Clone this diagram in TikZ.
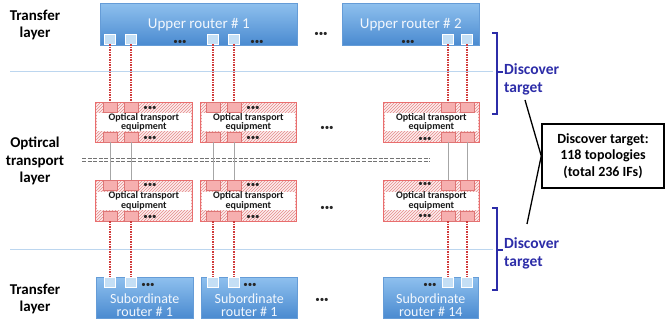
\documentclass[tikz,border=0pt]{standalone}
\usepackage{fontspec}
\setmainfont{Carlito}
\usetikzlibrary{patterns}
\definecolor{rtop}{HTML}{8EC0EE}
\definecolor{rbot}{HTML}{4A8AD0}
\definecolor{portblue}{HTML}{C4DFF5}
\definecolor{hatchc}{HTML}{E48A8A}
\definecolor{pinkbg}{HTML}{FDEEEE}
\definecolor{pinkport}{HTML}{F6AFAF}
\definecolor{redline}{HTML}{D03A3A}
\definecolor{navy}{HTML}{2C2CA8}
\definecolor{layerline}{HTML}{BCD6EF}
\definecolor{rtext}{HTML}{F2F7FD}
\tikzset{
  router/.style={draw=rbot!85!white, line width=0.6pt, top color=rtop, bottom color=rbot,
    rectangle, anchor=north west, inner sep=0pt, text=rtext,
    font=\fontsize{15}{15}\selectfont},
  rport/.style={draw=white, line width=0.5pt, fill=portblue, minimum width=11pt,
    minimum height=10pt, inner sep=0pt},
  optbox/.style={draw=hatchc!80!red, line width=0.8pt, preaction={fill=pinkbg},
    pattern=north east lines, pattern color=hatchc, rectangle, anchor=north west,
    inner sep=0pt},
  opttext/.style={fill=white, inner sep=0pt, minimum height=18pt, align=center,
    font=\bfseries\fontsize{10}{9.5}\selectfont, text=black!90},
  oport/.style={draw=redline!70, line width=0.5pt, fill=pinkport, minimum width=14pt,
    minimum height=10pt, inner sep=0pt},
  dotsn/.style={inner sep=0pt, font=\fontsize{9}{9}\selectfont, text=black!85},
  reddot/.style={draw=redline, line width=1.4pt, dash pattern=on 1.4pt off 1.1pt},
  grayv/.style={draw=gray!70, line width=0.8pt},
  ddash/.style={draw=black!55, line width=1pt, dash pattern=on 4pt off 1.6pt},
  layerl/.style={draw=layerline, line width=1pt},
  bracel/.style={draw=navy, line width=1.3pt},
  layerlabel/.style={align=center, font=\bfseries\fontsize{15}{17.5}\selectfont, inner sep=0pt},
  disc/.style={align=left, anchor=west, text=navy, font=\bfseries\fontsize{15.5}{18}\selectfont, inner sep=0pt},
  subtext/.style={align=center, text=rtext, font=\fontsize{14}{13}\selectfont, inner sep=0pt},
  sumbox/.style={draw=black, line width=1.5pt, fill=white, align=center, inner sep=0pt,
    minimum width=122pt, minimum height=64pt, font=\bfseries\fontsize{14}{16.5}\selectfont},
  pointer/.style={draw=black, line width=1.3pt}
}
\begin{document}
\begin{tikzpicture}[x=1pt,y=-1pt]
\useasboundingbox (0,0) rectangle (670,320);
% layer lines
\coordinate (l1L) at (10,72); \coordinate (l1R) at (493,72);
\coordinate (l2L) at (10,250); \coordinate (l2R) at (493,250);
\draw[layerl] (l1L) -- (l1R);
\draw[layerl] (l2L) -- (l2R);
% left labels
\node[layerlabel] (lab1) at (35,25) {Transfer\\layer};
\node[layerlabel] (lab2) at (35,161) {Optircal\\transport\\layer};
\node[layerlabel] (lab3) at (35,299) {Transfer\\layer};
% upper routers
\node[router, minimum width=197pt, minimum height=42pt] (ur1) at (100,3) {Upper router \# 1};
\node[router, minimum width=137pt, minimum height=42pt] (ur2) at (342,3) {Upper router \# 2};
\node[rport] (uA) at (110,39) {};
\node[rport] (uB) at (131,39) {};
\node[rport] (uC) at (213,39) {};
\node[rport] (uD) at (234,39) {};
\node[rport] (uE) at (448,39) {};
\node[rport] (uF) at (467,39) {};
\node[dotsn] (ud1) at (180,42) {•••};
\node[dotsn] (ud2) at (257,42) {•••};
\node[dotsn] (ud3) at (408,42) {•••};
\node[dotsn] (ud4) at (321,34) {•••};
% optical row 1
\node[optbox, minimum width=97pt, minimum height=40pt] (o1) at (95,102) {};
\node[optbox, minimum width=96pt, minimum height=40pt] (o2) at (200,102) {};
\node[optbox, minimum width=96pt, minimum height=40pt] (o3) at (383,102) {};
\node[opttext, minimum width=94pt] (o1t) at (o1.center) {Optical transport\\equipment};
\node[opttext, minimum width=93pt] (o2t) at (o2.center) {Optical transport\\equipment};
\node[opttext, minimum width=93pt] (o3t) at (o3.center) {Optical transport\\equipment};
\foreach \c/\x in {A/110,B/131,C/213,D/234,E/448,F/467}{
  \node[oport] (p\c1t) at (\x,107) {};
  \node[oport] (p\c1b) at (\x,137) {};
}
\node[dotsn] (od1) at (150,108) {•••};
\node[dotsn] (od2) at (150,138) {•••};
\node[dotsn] (od3) at (253,108) {•••};
\node[dotsn] (od4) at (253,138) {•••};
\node[dotsn] (od5) at (425,139) {•••};
\node[dotsn] (od6) at (327,128) {•••};
% optical row 2
\node[optbox, minimum width=97pt, minimum height=41pt] (q1) at (95,180) {};
\node[optbox, minimum width=96pt, minimum height=41pt] (q2) at (200,180) {};
\node[optbox, minimum width=96pt, minimum height=41pt] (q3) at (383,180) {};
\node[opttext, minimum width=94pt] (q1t) at (q1.center) {Optical transport\\equipment};
\node[opttext, minimum width=93pt] (q2t) at (q2.center) {Optical transport\\equipment};
\node[opttext, minimum width=93pt] (q3t) at (q3.center) {Optical transport\\equipment};
\foreach \c/\x in {A/110,B/131,C/213,D/234,E/448,F/467}{
  \node[oport] (p\c2t) at (\x,185) {};
  \node[oport] (p\c2b) at (\x,216) {};
}
\node[dotsn] (qd1) at (150,185) {•••};
\node[dotsn] (qd2) at (150,217) {•••};
\node[dotsn] (qd3) at (253,185) {•••};
\node[dotsn] (qd4) at (253,217) {•••};
\node[dotsn] (qd5) at (425,184) {•••};
\node[dotsn] (qd6) at (425,216) {•••};
\node[dotsn] (qd7) at (327,208) {•••};
% double dashed line
\coordinate (dL1) at (82,158.5); \coordinate (dR1) at (430,158.5);
\coordinate (dL2) at (82,162); \coordinate (dR2) at (430,162);
\draw[ddash] (dL1) -- (dR1);
\draw[ddash] (dL2) -- (dR2);
% subordinate routers
\node[router, minimum width=97pt, minimum height=41pt] (s1) at (96,277) {};
\node[router, minimum width=96pt, minimum height=41pt] (s2) at (201,277) {};
\node[router, minimum width=95pt, minimum height=41pt] (s3) at (383,277) {};
\node[subtext] (s1t) at ([yshift=-7pt]s1.center) {Subordinate\\router \# 1};
\node[subtext] (s2t) at ([yshift=-7pt]s2.center) {Subordinate\\router \# 1};
\node[subtext] (s3t) at ([yshift=-7pt]s3.center) {Subordinate\\router \# 14};
\foreach \c/\x in {A/110,B/131,C/213,D/234,E/448,F/467}{
  \node[rport] (s\c) at (\x,282.5) {};
}
\node[dotsn] (sd1) at (148,285) {•••};
\node[dotsn] (sd2) at (250,285) {•••};
\node[dotsn] (sd3) at (430,285) {•••};
\node[dotsn] (sd4) at (322,300) {•••};
% connectors
\foreach \c in {A,B,C,D,E,F}{
  \draw[reddot] (u\c.south) -- (p\c1t.north);
  \draw[grayv] (p\c1b.south) -- (p\c2t.north);
  \draw[reddot] (p\c2b.south) -- (s\c.north);
}
% braces
\coordinate (b1t) at (492,33); \coordinate (b1b) at (492,114);
\coordinate (b1m) at (497,72); \coordinate (b1k) at (503,72);
\draw[bracel] (b1t) -- ++(5,0) |- (b1b);
\draw[bracel] (b1m) -- (b1k);
\coordinate (b2t) at (492,208); \coordinate (b2b) at (492,290);
\coordinate (b2m) at (497,250); \coordinate (b2k) at (503,250);
\draw[bracel] (b2t) -- ++(5,0) |- (b2b);
\draw[bracel] (b2m) -- (b2k);
\node[disc] (dt1) at (504,79) {Discover\\target};
\node[disc] (dt2) at (504,253) {Discover\\target};
% summary box
\node[sumbox] (sum) at (603,156) {Discover target:\\118 topologies\\(total 236 IFs)};
\coordinate (pt1) at (525,100);
\coordinate (pt2) at (527,224);
\draw[pointer] (pt1) -- (sum.west);
\draw[pointer] (pt2) -- (sum.west);
\end{tikzpicture}
\end{document}
